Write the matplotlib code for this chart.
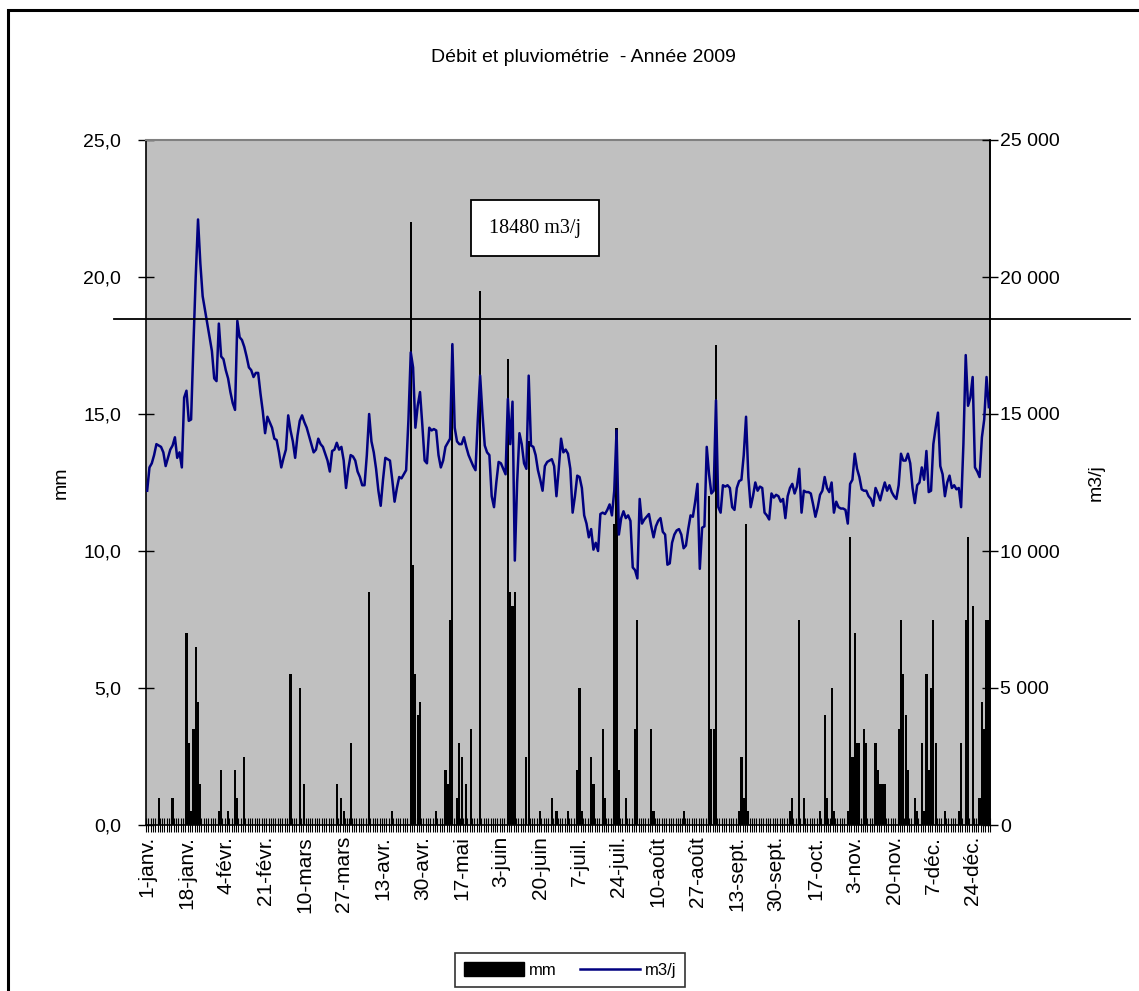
import matplotlib
matplotlib.use("Agg")
import matplotlib.pyplot as plt
import numpy as np
from matplotlib.patches import Patch, Rectangle
from matplotlib.lines import Line2D
import matplotlib.transforms as mtransforms

plt.rcParams["font.family"] = ["Liberation Sans", "DejaVu Sans"]

# Daily flow at the plant, 2009 (m3/j), one value per day from 1 January
flow_jan = [12200, 13050, 13200, 13500, 13900, 13850, 13800, 13600, 13100, 13400,
            13700, 13850, 14150, 13400, 13600, 13050, 15600, 15850, 14750, 14800,
            17500, 20000, 22100, 20500, 19300, 18800, 18300, 17800, 17300, 16300,
            16200]
flow_feb = [18300, 17100, 17000, 16600, 16300, 15800, 15400, 15150, 18400, 17800,
            17700, 17450, 17100, 16700, 16600, 16350, 16500, 16500, 15750, 15100,
            14300, 14900, 14700, 14500, 14100, 14050, 13600, 13050]
flow_mar = [13400, 13700, 14950, 14400, 14000, 13400, 14200, 14750, 14950, 14700,
            14500, 14200, 13900, 13600, 13700, 14100, 13900, 13800, 13550, 13300,
            12900, 13650, 13700, 13950, 13700, 13800, 13300, 12300, 13000, 13500,
            13450]
flow_apr = [13300, 12900, 12700, 12400, 12400, 13500, 15000, 14000, 13600, 13000,
            12200, 11650, 12600, 13400, 13350, 13300, 12600, 11800, 12300, 12700,
            12650, 12800, 12950, 14800, 17250, 16700, 14500, 15300, 15800, 14600]
flow_may = [13300, 13200, 14500, 14400, 14450, 14400, 13500, 13050, 13300, 13800,
            13950, 14100, 17550, 14500, 14000, 13900, 13900, 14150, 13800, 13500,
            13300, 13100, 12950, 14800, 16400, 15000, 13850, 13600, 13500, 12000,
            11600]
flow_jun = [12500, 13250, 13200, 13000, 12800, 15550, 13900, 15450, 9650, 12500,
            14300, 13900, 13200, 13000, 16400, 13850, 13800, 13500, 12950, 12600,
            12200, 13100, 13250, 13300, 13350, 13100, 12000, 13000, 14100, 13600]
flow_jul = [13700, 13550, 13000, 11400, 12000, 12750, 12700, 12300, 11300, 11000,
            10500, 10800, 10050, 10300, 10000, 11350, 11400, 11350, 11500, 11700,
            11300, 12200, 14400, 10600, 11200, 11450, 11200, 11300, 11100, 9400,
            9300]
flow_aug = [9000, 11900, 11000, 11150, 11250, 11350, 10900, 10500, 10900, 11100,
            11200, 10700, 10600, 9500, 9550, 10300, 10600, 10750, 10800, 10600,
            10100, 10200, 10800, 11300, 11250, 11800, 12450, 9350, 10850, 10900,
            13800]
flow_sep = [12800, 12100, 12200, 15500, 11600, 11400, 12400, 12350, 12400, 12300,
            11600, 11500, 12300, 12550, 12600, 13500, 14900, 12700, 11600, 12000,
            12500, 12200, 12350, 12300, 11400, 11300, 11150, 12100, 11950, 12050]
flow_oct = [12000, 11800, 11900, 11200, 12000, 12300, 12450, 12100, 12350, 13000,
            11400, 12200, 12150, 12150, 12100, 11700, 11250, 11600, 12050, 12200,
            12700, 12300, 12150, 12500, 11400, 11800, 11600, 11550, 11550, 11500,
            11000]
flow_nov = [12450, 12600, 13550, 13000, 12700, 12250, 12200, 12200, 12000, 11900,
            11650, 12300, 12100, 11850, 12200, 12500, 12200, 12400, 12150, 12000,
            11900, 12400, 13550, 13300, 13300, 13550, 13200, 12300, 11750, 12400]
flow_dec = [12500, 13050, 12600, 13650, 12150, 12200, 13900, 14500, 15050, 13100,
            12800, 12000, 12500, 12750, 12300, 12400, 12250, 12300, 11600, 13900,
            17150, 15300, 15600, 16350, 13050, 12900, 12700, 14150, 14800, 16350,
            15250]

# Rainfall (mm): day of year (0 = 1 January) and daily total, dry days omitted
rain_days = [5, 11, 17, 18, 19, 20, 21, 22, 23, 31, 32, 35, 38, 39, 42, 62, 66, 68,
             82, 84, 85, 88, 96, 106, 114, 115, 116, 117, 118, 125, 129, 130, 131,
             132, 134, 135, 136, 138, 140, 144, 156, 157, 158, 159, 164, 165, 170,
             175, 177, 182, 186, 187, 188, 192, 193, 197, 198, 202, 203, 204, 207,
             211, 212, 218, 219, 232, 243, 244, 245, 246, 256, 257, 258, 259, 260,
             278, 279, 282, 284, 291, 293, 294, 296, 297, 303, 304, 305, 306, 307,
             308, 310, 311, 315, 316, 317, 318, 319, 325, 326, 327, 328, 329, 332,
             333, 335, 336, 337, 338, 339, 340, 341, 345, 351, 352, 354, 355, 357,
             360, 361, 362, 363, 364]
rain_mm = [1.0, 1.0, 7.0, 3.0, 0.5, 3.5, 6.5, 4.5, 1.5, 0.5, 2.0, 0.5, 2.0, 1.0, 2.5,
           5.5, 5.0, 1.5, 1.5, 1.0, 0.5, 3.0, 8.5, 0.5, 22.0, 9.5, 5.5, 4.0, 4.5, 0.5,
           2.0, 1.5, 7.5, 17.5, 1.0, 3.0, 2.5, 1.5, 3.5, 19.5, 17.0, 8.5, 8.0, 8.5,
           2.5, 14.0, 0.5, 1.0, 0.5, 0.5, 2.0, 5.0, 0.5, 2.5, 1.5, 3.5, 1.0, 11.0,
           14.5, 2.0, 1.0, 3.5, 7.5, 3.5, 0.5, 0.5, 12.0, 3.5, 3.5, 17.5, 0.5, 2.5,
           1.0, 11.0, 0.5, 0.5, 1.0, 7.5, 1.0, 0.5, 4.0, 1.0, 5.0, 0.5, 0.5, 10.5,
           2.5, 7.0, 3.0, 3.0, 3.5, 3.0, 3.0, 2.0, 1.5, 1.5, 1.5, 3.5, 7.5, 5.5, 4.0,
           2.0, 1.0, 0.5, 3.0, 0.5, 5.5, 2.0, 5.0, 7.5, 3.0, 0.5, 0.5, 3.0, 7.5,
           10.5, 8.0, 1.0, 4.5, 3.5, 7.5, 7.5]

# Reference flow shown by the horizontal rule
ref_flow = 18480

date_labels = ["1-janv.", "18-janv.", "4-févr.", "21-févr.", "10-mars", "27-mars",
               "13-avr.", "30-avr.", "17-mai", "3-juin", "20-juin", "7-juil.",
               "24-juil.", "10-août", "27-août", "13-sept.", "30-sept.", "17-oct.",
               "3-nov.", "20-nov.", "7-déc.", "24-déc."]

flow = np.array(flow_jan + flow_feb + flow_mar + flow_apr + flow_may + flow_jun
                + flow_jul + flow_aug + flow_sep + flow_oct + flow_nov + flow_dec)
days = np.arange(len(flow))

W, H = 1139, 991
fig = plt.figure(figsize=(W / 100, H / 100), dpi=100)
fig.patch.set_facecolor("white")

# outer frame (left and top edges visible)
fig.add_artist(Rectangle((8 / W, -0.1), 1.2, 1 - 10 / H + 0.1, transform=fig.transFigure,
                         fill=False, edgecolor="black", linewidth=2.2))

x0, x1, y0, y1 = 146, 990, 140, 825
ax = fig.add_axes([x0 / W, 1 - y1 / H, (x1 - x0) / W, (y1 - y0) / H])
ax.set_facecolor("#c0c0c0")

ax.bar(rain_days, rain_mm, width=0.95, color="black", edgecolor="none", zorder=2)
ax.set_xlim(-0.5, len(flow) - 0.5)
ax.set_ylim(0, 25)
ax.set_yticks(np.arange(0, 26, 5))
ax.set_yticklabels([f"{v:.1f}".replace(".", ",") for v in np.arange(0, 26, 5)])
ax.tick_params(axis="y", direction="inout", length=12, width=1, labelsize=14, pad=12)

# day tick marks across the axis, date labels every 17 days
ax.set_xticks(np.arange(-0.5, len(flow), 1))
ax.set_xticklabels([])
ax.tick_params(axis="x", which="major", direction="inout", length=10, width=0.8)
ax.set_xticks(np.arange(0, len(flow), 17), date_labels, minor=True)
ax.tick_params(axis="x", which="minor", length=0, pad=8, labelsize=15,
               labelrotation=90)
ax.set_ylabel("mm", fontsize=14, labelpad=10)

for side in ("left", "bottom", "right"):
    ax.spines[side].set_color("black")
    ax.spines[side].set_linewidth(1.2)
ax.spines["top"].set_color("#808080")
ax.spines["top"].set_linewidth(1.5)

ax2 = ax.twinx()
ax2.plot(days, flow, color="#000080", linewidth=1.8, zorder=3)
ax2.set_ylim(0, 25000)
ax2.set_yticks(np.arange(0, 25001, 5000))
ax2.set_yticklabels([f"{v:,}".replace(",", " ") for v in range(0, 25001, 5000)])
ax2.tick_params(axis="y", direction="inout", length=12, width=1, labelsize=14, pad=1.5)
ax2.set_ylabel("m3/j", fontsize=14, labelpad=20)
ax2.spines["right"].set_color("black")
ax2.spines["right"].set_linewidth(1.2)
ax2.spines["top"].set_visible(False)
ax2.spines["left"].set_visible(False)
ax2.spines["bottom"].set_visible(False)

# reference rule drawn across the whole chart area
trans = mtransforms.blended_transform_factory(fig.transFigure, ax2.transData)
ax2.add_line(Line2D([114 / W, 1130 / W], [ref_flow, ref_flow], transform=trans,
                    color="black", linewidth=1.3, clip_on=False, zorder=4))

ax.text(535 / W, 1 - 228 / H, f"{ref_flow} m3/j", transform=fig.transFigure,
        ha="center", va="center", fontsize=14.5, family="Liberation Serif",
        bbox=dict(boxstyle="square,pad=0.9", facecolor="white", edgecolor="black",
                  linewidth=1.3), zorder=6)

fig.text(583 / W, 1 - 58 / H, "Débit et pluviométrie  - Année 2009",
         ha="center", va="center", fontsize=14)

handles = [Patch(facecolor="black", edgecolor="black", label="mm"),
           Line2D([], [], color="#000080", linewidth=1.8, label="m3/j")]
fig.legend(handles=handles, loc="center", bbox_to_anchor=(570 / W, 1 - 970 / H),
           ncol=2, fontsize=12, frameon=True, fancybox=False, edgecolor="black",
           handlelength=3.6, handleheight=0.9, columnspacing=1.4, borderpad=0.55,
           handletextpad=0.3).get_frame().set_linewidth(1.2)

fig.savefig("out.png", dpi=100)
